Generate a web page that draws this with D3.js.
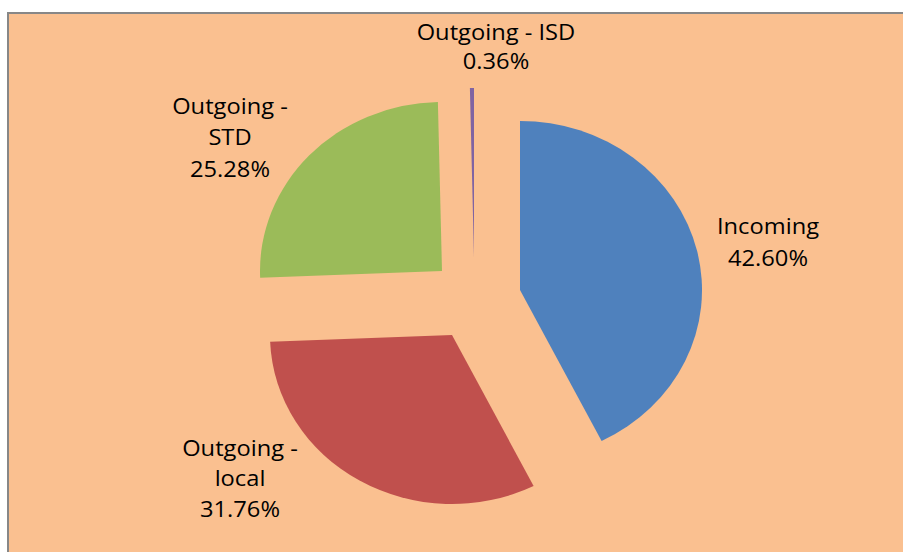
<!DOCTYPE html>
<html>
<head>
<meta charset="utf-8">
<script src="https://cdn.jsdelivr.net/npm/d3@7/dist/d3.min.js"></script>
<style>
  html, body { margin: 0; padding: 0; background: #ffffff; }
  svg { display: block; }
</style>
</head>
<body>
<svg id="chart" width="903" height="552"></svg>
<script>
// ---- data ----
const categories = ["Incoming", "Outgoing - local", "Outgoing - STD", "Outgoing - ISD"];
const values = [42.60, 31.76, 25.28, 0.36];
const labelNames = [["Incoming"], ["Outgoing -", "local"], ["Outgoing -", "STD"], ["Outgoing - ISD"]];
const colors = ["#4F81BD", "#C0504D", "#9BBB59", "#8064A2"];

// ---- layout ----
const W = 903, H = 552;
const center = [475, 299];
const radius = 169;
const xStretch = 1.077;
// per-slice explosion offsets (px) from the pie centre
const explode = [[45, -9], [-23, 36], [-33, -28], [-1, -42]];
// label placement: centre x, first baseline y, line height
const labelPos = [
  { x: 768, y: 234, lh: 32 },
  { x: 240, y: 456, lh: 30.5 },
  { x: 230, y: 114, lh: 31.5 },
  { x: 496, y: 40, lh: 29.5 }
];

const svg = d3.select("#chart");

svg.append("rect")
  .attr("x", 8).attr("y", 13)
  .attr("width", W + 10).attr("height", H + 10)
  .attr("fill", "#FAC090")
  .attr("stroke", "#878787")
  .attr("stroke-width", 2);

const pie = d3.pie().sort(null).value(d => d.value).startAngle(0).endAngle(2 * Math.PI);
const arc = d3.arc().innerRadius(0).outerRadius(radius);

const data = categories.map((c, i) => ({ cat: c, value: values[i], i }));
const arcs = pie(data);

svg.selectAll("path.slice")
  .data(arcs)
  .enter().append("path")
  .attr("class", "slice")
  .attr("transform", d => `translate(${center[0] + explode[d.data.i][0]},${center[1] + explode[d.data.i][1]}) scale(${xStretch},1)`)
  .attr("d", arc)
  .attr("fill", d => colors[d.data.i]);

const fmt = d3.format(".2f");
const labels = svg.selectAll("g.label")
  .data(arcs)
  .enter().append("g")
  .attr("class", "label")
  .attr("transform", d => `translate(${labelPos[d.data.i].x},${labelPos[d.data.i].y}) scale(${xStretch},1)`);

labels.each(function(d) {
  const lines = labelNames[d.data.i].concat([fmt(d.data.value) + "%"]);
  const g = d3.select(this);
  lines.forEach((t, k) => {
    g.append("text")
      .attr("x", 0)
      .attr("y", k * labelPos[d.data.i].lh)
      .attr("text-anchor", "middle")
      .attr("font-family", "'Open Sans', sans-serif")
      .attr("font-size", 22)
      .attr("fill", "#000")
      .text(t);
  });
});
</script>
</body>
</html>
